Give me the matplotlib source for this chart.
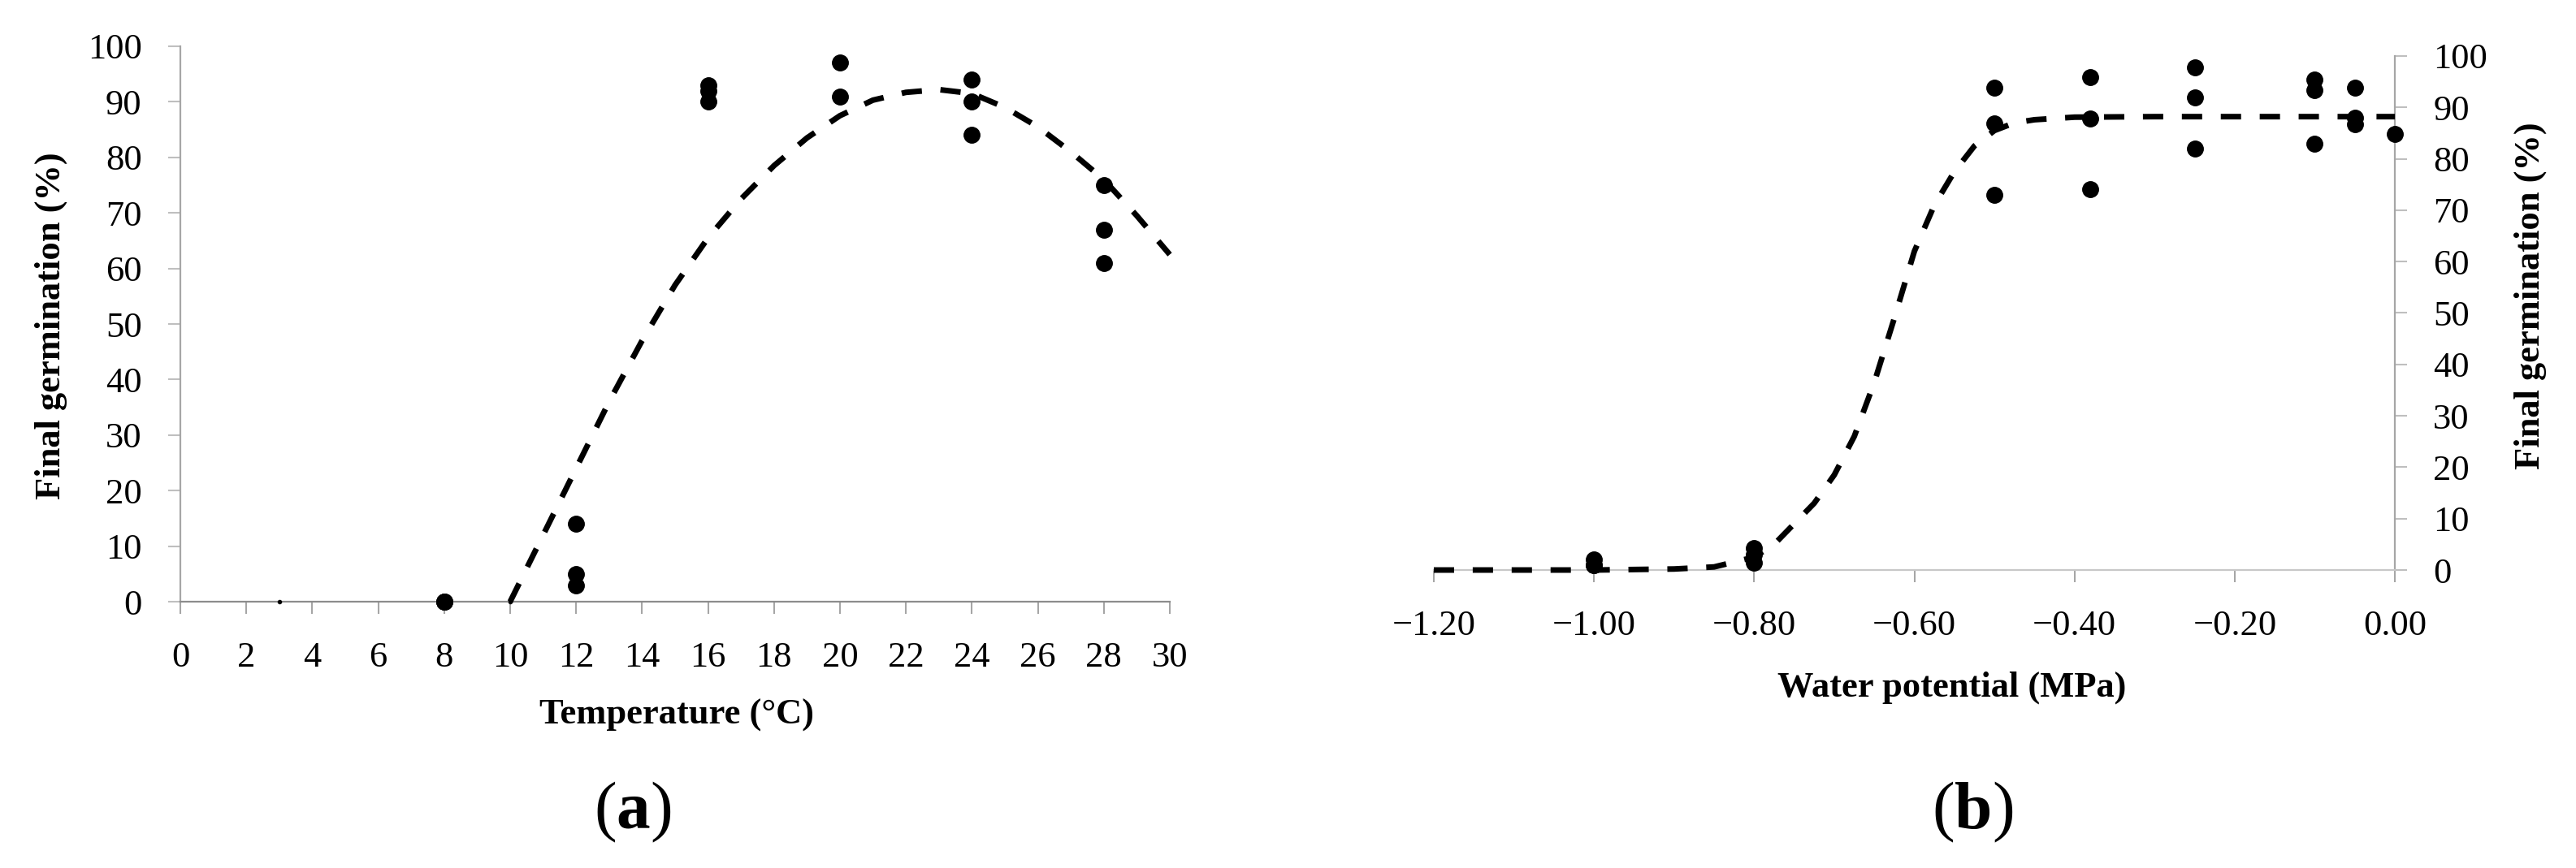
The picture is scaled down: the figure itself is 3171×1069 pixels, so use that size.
import matplotlib
matplotlib.use("Agg")
from matplotlib import pyplot as plt

plt.rcParams['font.family'] = ['Liberation Serif', 'DejaVu Serif']
plt.rcParams['mathtext.fontset'] = 'custom'
plt.rcParams['mathtext.rm'] = 'Liberation Serif'
plt.rcParams['mathtext.bf'] = 'Liberation Serif:bold'

# (a) germination vs temperature
temp_x = [8, 8, 8, 12, 12, 12, 16, 16, 16, 20, 20, 24, 24, 24, 28, 28, 28]
temp_y = [0, 0, 0, 14, 5, 3, 93, 92, 90, 97, 91, 94, 90, 84, 75, 67, 61]
temp_tiny_x = [3, 10]
temp_tiny_y = [0, 0]
temp_fit_x = [10, 11, 12, 13, 14, 15, 16, 17, 18, 19, 20,
              21, 22, 23, 24, 25, 26, 27, 28, 29, 30]
temp_fit_y = [0, 12, 24, 36, 47, 57, 65.5, 72.5, 78.5, 83.5, 87.5,
              90.3, 91.7, 92.2, 91.5, 89, 85.5, 81, 76, 69.5, 62.5]
temp_ticks = [0, 2, 4, 6, 8, 10, 12, 14, 16, 18, 20, 22, 24, 26, 28, 30]

# (b) germination vs water potential
wp_x = [-1.0, -1.0, -1.0, -0.8, -0.8, -0.8,
        -0.5, -0.5, -0.5, -0.38, -0.38, -0.38, -0.25, -0.25, -0.25,
        -0.1, -0.1, -0.1, -0.05, -0.05, -0.05, 0.0]
wp_y = [2, 1, 1, 4.3, 3, 1.5,
        93.8, 86.9, 73, 95.9, 87.8, 74.1, 97.8, 91.9, 82,
        95.4, 93.4, 82.9, 93.8, 88, 86.7, 84.8]
wp_fit_x = [-1.2, -1.0, -0.9, -0.85, -0.8, -0.775, -0.75, -0.725, -0.7, -0.675,
            -0.65, -0.625, -0.6, -0.575, -0.55, -0.525, -0.5, -0.475, -0.45,
            -0.4, -0.3, -0.2, -0.1, 0.0]
wp_fit_y = [0, 0, 0.2, 0.6, 2.5, 5, 9, 13, 18.5, 26,
            36.5, 49, 62, 71, 77.5, 82.5, 85.5, 87, 87.6,
            88.1, 88.2, 88.2, 88.2, 88.2]
wp_ticks = [-1.2, -1.0, -0.8, -0.6, -0.4, -0.2, 0.0]
wp_tick_labels = ['\u22121.20', '\u22121.00', '\u22120.80', '\u22120.60',
                  '\u22120.40', '\u22120.20', '0.00']
germ_ticks = [0, 10, 20, 30, 40, 50, 60, 70, 80, 90, 100]

fig = plt.figure(figsize=(31.71, 10.69), dpi=100)
ax1 = fig.add_axes([0.0700, 0.3068, 0.3841, 0.6399])
ax2 = fig.add_axes([0.5566, 0.3433, 0.3731, 0.5922])

tick_font = 32
label_font = 32
dash = (3.6, 3.3)

# panel a
ax1.plot(temp_fit_x, temp_fit_y, color='black', lw=5, linestyle=(0, dash),
         dash_capstyle='butt', clip_on=False, zorder=3)
ax1.scatter(temp_x, temp_y, s=196, color='black', clip_on=False, zorder=4)
ax1.plot(temp_tiny_x, temp_tiny_y, 'o', color='black', markersize=3,
         linestyle='none', clip_on=False, zorder=4)
ax1.set_xlim(0, 30)
ax1.set_ylim(0, 100)
ax1.set_xticks(temp_ticks)
ax1.set_yticks(germ_ticks)
ax1.spines['top'].set_visible(False)
ax1.spines['right'].set_visible(False)
ax1.spines['left'].set_color('#a6a6a6')
ax1.spines['bottom'].set_color('#8c8c8c')
ax1.spines['left'].set_linewidth(1.6)
ax1.spines['bottom'].set_linewidth(1.6)
ax1.tick_params(axis='x', direction='out', length=11, width=1.5,
                color='#a6a6a6', labelsize=tick_font, pad=24)
ax1.tick_params(axis='y', direction='out', length=11, width=1.5,
                color='#bfbfbf', labelsize=tick_font, pad=23)
ax1.set_xlabel('Temperature (°C)', fontsize=label_font, fontweight='bold')
ax1.xaxis.set_label_coords(0.5016, -0.205)
ax1.xaxis.label.set_va('center')
ax1.set_ylabel('Final germination (%)', fontsize=label_font, fontweight='bold')
ax1.yaxis.set_label_coords(-0.1305, 0.497)
ax1.yaxis.label.set_va('center')

# panel b
ax2.plot(wp_fit_x, wp_fit_y, color='black', lw=5, linestyle=(0, dash),
         dash_capstyle='butt', clip_on=False, zorder=3)
ax2.scatter(wp_x, wp_y, s=196, color='black', clip_on=False, zorder=4)
ax2.set_xlim(-1.2, 0)
ax2.set_ylim(0, 100)
ax2.set_xticks(wp_ticks)
ax2.set_xticklabels(wp_tick_labels)
ax2.set_yticks(germ_ticks)
ax2.yaxis.tick_right()
ax2.yaxis.set_label_position('right')
ax2.spines['top'].set_visible(False)
ax2.spines['left'].set_visible(False)
ax2.spines['right'].set_color('#a6a6a6')
ax2.spines['bottom'].set_color('#c8c8c8')
ax2.spines['right'].set_linewidth(1.6)
ax2.spines['bottom'].set_linewidth(1.6)
ax2.tick_params(axis='x', direction='out', length=11, width=1.5,
                color='#a6a6a6', labelsize=tick_font, pad=24)
ax2.tick_params(axis='y', direction='out', length=11, width=1.5,
                color='#bfbfbf', labelsize=tick_font, pad=23)
ax2.set_xlabel('Water potential (MPa)', fontsize=label_font, fontweight='bold')
ax2.xaxis.set_label_coords(0.539, -0.229)
ax2.xaxis.label.set_va('center')
ax2.set_ylabel('Final germination (%)', fontsize=label_font, fontweight='bold',
               rotation=90)
ax2.yaxis.set_label_coords(1.141, 0.534)
ax2.yaxis.label.set_va('center')

# panel letters
fig.text(0.2457, 0.064, r'($\mathbf{a}$)', fontsize=60, ha='center', va='center')
fig.text(0.7657, 0.064, r'($\mathbf{b}$)', fontsize=60, ha='center', va='center')

fig.savefig('out.png', dpi=100)
